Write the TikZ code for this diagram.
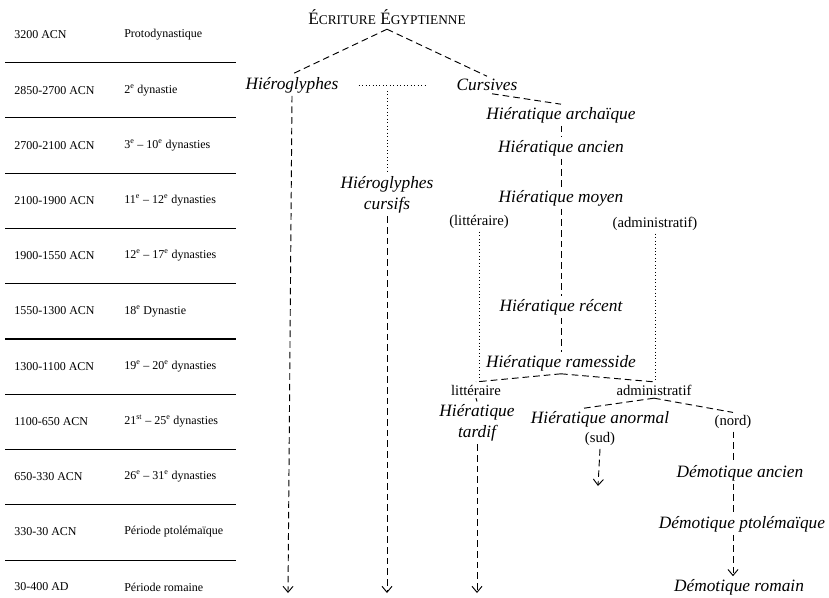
\documentclass[tikz,border=0pt]{standalone}
\usepackage{fontspec}
\setmainfont{Liberation Serif}
\usetikzlibrary{positioning,arrows.meta}

\begin{document}
\begin{tikzpicture}[x=0.75pt, y=-0.75pt,
>={Straight Barb[length=4.5pt,width=7.5pt]},
script/.style={font=\fontsize{13}{16}\selectfont\itshape, inner sep=2pt, align=center},
note/.style={font=\fontsize{11}{12}\selectfont, inner sep=2pt},
cell/.style={font=\fontsize{9}{10}\selectfont, anchor=west, inner sep=0pt},
branch/.style={dash pattern=on 5pt off 3pt, line width=0.7pt},
link/.style={dotted, line width=0.6pt},
rule/.style={line width=0.8pt}]
\useasboundingbox (0,0) rectangle (829,597);
\def\hx{561}
\def\bot{593}

% time table
\foreach \d/\n [count=\i from 0] in {3200 ACN/Protodynastique,
  2850-2700 ACN/2\textsuperscript{e} dynastie,
  2700-2100 ACN/3\textsuperscript{e} -- 10\textsuperscript{e} dynasties,
  2100-1900 ACN/11\textsuperscript{e} -- 12\textsuperscript{e} dynasties,
  1900-1550 ACN/12\textsuperscript{e} -- 17\textsuperscript{e} dynasties,
  1550-1300 ACN/18\textsuperscript{e} Dynastie,
  1300-1100 ACN/19\textsuperscript{e} -- 20\textsuperscript{e} dynasties,
  1100-650 ACN/21\textsuperscript{st} -- 25\textsuperscript{e} dynasties,
  650-330 ACN/26\textsuperscript{e} -- 31\textsuperscript{e} dynasties,
  330-30 ACN/Période ptolémaïque,
  30-400 AD/Période romaine} {
  \node[cell] (date\i) at (14, {35+55.2*\i}) {\d};
  \node[cell] (dyn\i) at (124, {35+55.2*\i}) {\n};
}
\foreach \i in {0,...,9}
  \draw[rule] (5, {62.5+55.3*\i}) -- (236, {62.5+55.3*\i});

% scripts
\node (title) at (387,17) {\fontsize{13}{15}\selectfont É{\fontsize{10}{12}\selectfont CRITURE} É{\fontsize{10}{12}\selectfont GYPTIENNE}};
\node[script] (hiero) at (292,85) {Hiéroglyphes};
\node[script] (curs) at (487,85) {Cursives};
\node[script] (hcurs) at (387,195) {Hiéroglyphes\\cursifs};
\coordinate (hjoin) at (387,91);

\node[script] (harch) at (\hx,115) {Hiératique archaïque};
\node[script] (hanc) at (\hx,148) {Hiératique ancien};
\node[script] (hmoy) at (\hx,198) {Hiératique moyen};
\node[script] (hrec) at (\hx,307) {Hiératique récent};
\node[script] (hram) at (\hx,363) {Hiératique ramesside};

\node[note] (plit) at (479,222) {(littéraire)};
\node[note] (padm) at (655,224) {(administratif)};
\node[note] (lit) at (476,390) {littéraire};
\node[note] (adm) at (654,390) {administratif};

\node[script] (htard) at (477,423) {Hiératique\\tardif};
\node[script] (hanor) at (600,419) {Hiératique anormal};
\node[note] (sud) [below=0pt of hanor] {(sud)};
\node[note] (nord) at (733,422) {(nord)};
\node[script] (dancien) at (740,473) {Démotique ancien};
\node[script] (dptol) at (742,524) {Démotique ptolémaïque};
\node[script] (drom) at (739,587) {Démotique romain};

\coordinate (e1) at (288,\bot);
\coordinate (e2) at (387,\bot);
\coordinate (e3) at (477,\bot);
\coordinate (e4) at (598,486);

% branches
\draw[branch] (title.south) -- (hiero.north);
\draw[branch] (title.south) -- (curs.north);
\draw[branch] (curs.-60) -- (harch.north);
\draw[branch] (harch.south) -- (hanc.north);
\draw[branch] (hanc.south) -- (hmoy.north);
\draw[branch] (hmoy.south) -- (hrec.north);
\draw[branch] (hrec.south) -- (hram.north);
\draw[branch] (hram.south) -- (lit.north);
\draw[branch] (hram.south) -- (adm.north);
\draw[branch] (lit.south) -- (htard.north);
\draw[branch] (adm.south) -- ([xshift=-12pt]hanor.north);
\draw[branch] (adm.south) -- (nord.north);
\draw[branch] (nord.south) -- (nord.south |- dancien.north);
\draw[branch] (nord.south |- dancien.south) -- (nord.south |- dptol.north);

\draw[branch, ->] (hiero.south) -- (e1);
\draw[branch, ->] (hcurs.south) -- (e2);
\draw[branch, ->] (htard.south) -- (e3);
\draw[branch, ->] (sud.south) -- (e4);
\draw[branch, ->] (nord.south |- dptol.south) -- (nord.south |- drom.north);

% side links
\draw[link, shorten <=13pt, shorten >=20pt] (hiero.east) -- (curs.west);
\draw[link] (hjoin) -- (hcurs.north);
\draw[link] (plit.south) -- (plit.south |- lit.north);
\draw[link] (padm.south) -- (padm.south |- adm.north);
\end{tikzpicture}
\end{document}
